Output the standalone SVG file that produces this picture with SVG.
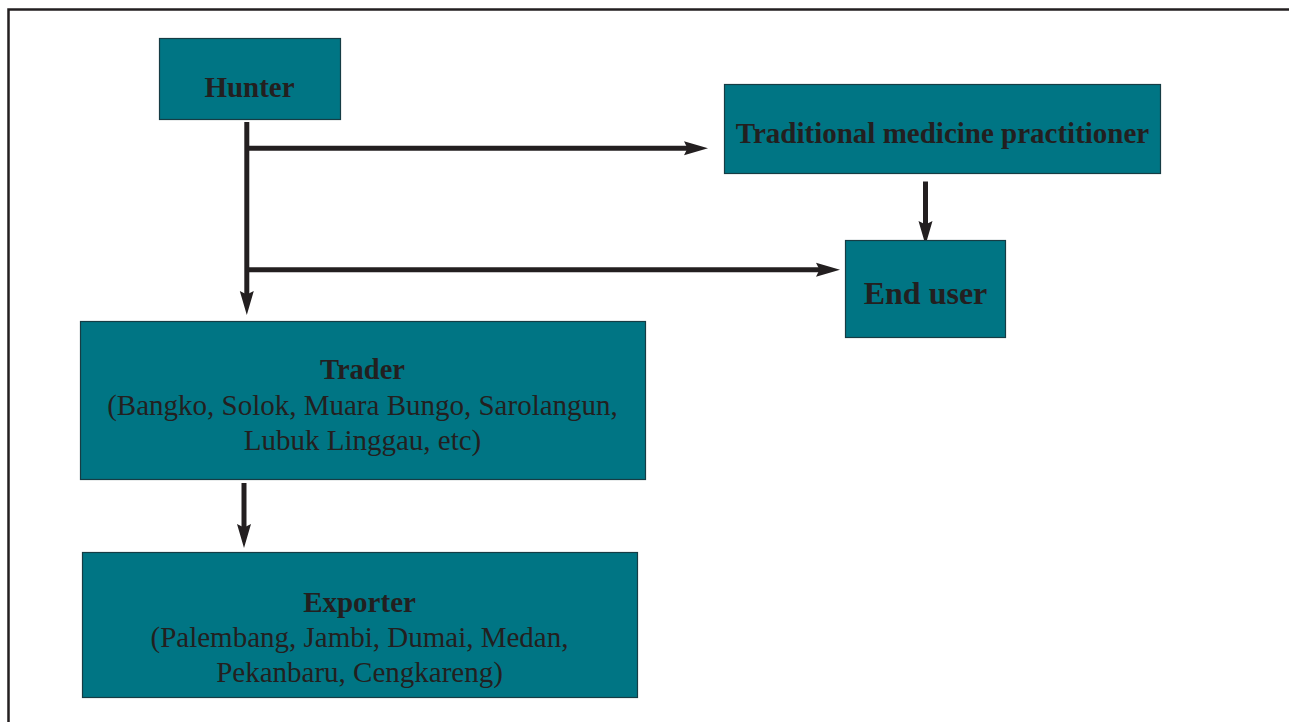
<svg xmlns="http://www.w3.org/2000/svg" width="1289" height="722" viewBox="0 0 1289 722">
<style>
.box{fill:#007584;stroke:#163c44;stroke-width:1.2}
.t{font-family:"Liberation Serif","Times New Roman",serif;fill:#231f20;text-anchor:middle}
.b{font-weight:bold}
.c{stroke:#231f20;stroke-width:5;fill:none;marker-end:url(#ah)}
</style>
<defs>
<marker id="ah" markerUnits="userSpaceOnUse" markerWidth="26" markerHeight="16" refX="10" refY="7" orient="auto" overflow="visible">
<path d="M0,0 L24,7 L0,14 L3.5,7 Z" fill="#231f20"/>
</marker>
</defs>
<rect x="0" y="0" width="1289" height="722" fill="#ffffff"/>
<path d="M8.5,724 V9.5 H1292" fill="none" stroke="#231f20" stroke-width="2.5"/>
<g id="connectors">
<line class="c" x1="246.8" y1="122" x2="246.8" y2="301"/>
<line class="c" x1="247" y1="148.2" x2="694" y2="148.2"/>
<line class="c" x1="247" y1="269.8" x2="826" y2="269.8"/>
<line class="c" x1="925.5" y1="181.5" x2="925.5" y2="231"/>
<line class="c" x1="244" y1="483" x2="244" y2="534"/>
</g>
<g id="hunter">
<rect class="box" x="159.5" y="38.5" width="181" height="81"/>
<text class="t b" x="249.5" y="97" font-size="29">Hunter</text>
</g>
<g id="tmp">
<rect class="box" x="724.5" y="84.5" width="436" height="89"/>
<text class="t b" x="942.5" y="143" font-size="29">Traditional medicine practitioner</text>
</g>
<g id="enduser">
<rect class="box" x="845.5" y="240.5" width="160" height="97"/>
<text class="t b" x="925.5" y="304" font-size="32">End user</text>
</g>
<g id="trader">
<rect class="box" x="80.5" y="321.5" width="565" height="158"/>
<text class="t b" x="362.5" y="379" font-size="28.5">Trader</text>
<text class="t" x="362.5" y="415" font-size="29">(Bangko, Solok, Muara Bungo, Sarolangun,</text>
<text class="t" x="362.5" y="450" font-size="29">Lubuk Linggau, etc)</text>
</g>
<g id="exporter">
<rect class="box" x="82.5" y="552.5" width="555" height="145"/>
<text class="t b" x="359.5" y="612" font-size="29">Exporter</text>
<text class="t" x="359.5" y="647" font-size="29">(Palembang, Jambi, Dumai, Medan,</text>
<text class="t" x="359.5" y="682" font-size="29">Pekanbaru, Cengkareng)</text>
</g>
</svg>
